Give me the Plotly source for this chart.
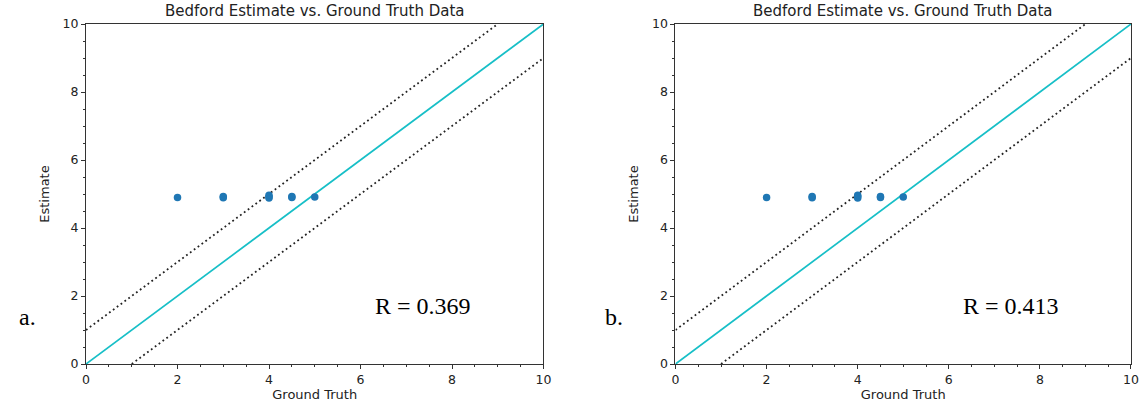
import plotly.graph_objects as go

# Data
ground_truth_a = [2, 3, 3, 4, 4, 4, 4.5, 4.5, 5]
estimate_a = [4.9, 4.89, 4.93, 4.88, 4.92, 4.96, 4.9, 4.93, 4.91]
ground_truth_b = [2, 3, 3, 4, 4, 4, 4.5, 4.5, 5]
estimate_b = [4.9, 4.89, 4.93, 4.88, 4.92, 4.96, 4.9, 4.93, 4.91]
line_x = [0, 10]
identity_y = [0, 10]
upper_x = [0, 9]
upper_y = [1, 10]
lower_x = [1, 10]
lower_y = [0, 9]
r_values = ["R = 0.369", "R = 0.413"]
panel_labels = ["a.", "b."]
title_text = "Bedford Estimate vs. Ground Truth Data"

W, H = 1148, 408
ml, mr, mt, mb = 86, 9, 24, 42
pw = W - ml - mr
ph = H - mt - mb
d1 = [0, (547 - ml) / pw]
d2 = [(680 - ml) / pw, 1]

fig = go.Figure()
for i, (gx, gy) in enumerate([(ground_truth_a, estimate_a), (ground_truth_b, estimate_b)]):
    xa = "x" if i == 0 else "x2"
    ya = "y" if i == 0 else "y2"
    fig.add_trace(go.Scatter(x=upper_x, y=upper_y, mode="lines", xaxis=xa, yaxis=ya,
                             line=dict(color="#222222", width=1.8, dash="1.8px,3px"), showlegend=False))
    fig.add_trace(go.Scatter(x=lower_x, y=lower_y, mode="lines", xaxis=xa, yaxis=ya,
                             line=dict(color="#222222", width=1.8, dash="1.8px,3px"), showlegend=False))
    fig.add_trace(go.Scatter(x=line_x, y=identity_y, mode="lines", xaxis=xa, yaxis=ya,
                             line=dict(color="#17bfc7", width=1.7), showlegend=False))
    fig.add_trace(go.Scatter(x=gx, y=gy, mode="markers", xaxis=xa, yaxis=ya,
                             marker=dict(color="#1f77b4", size=7.5), showlegend=False))

tfont = dict(family="DejaVu Sans", size=13, color="#222222")
axis_common = dict(
    range=[0, 10], dtick=2, tick0=0, ticks="outside", ticklen=4, tickwidth=1,
    tickcolor="#333333", showline=True, linecolor="#333333", linewidth=1, mirror=True,
    showgrid=False, zeroline=False,
    tickfont=dict(family="DejaVu Sans", size=12.5, color="#222222"),
    minor=dict(dtick=0.5, ticks="outside", ticklen=2, tickcolor="#333333"),
)
fig.update_layout(
    width=W, height=H,
    margin=dict(l=ml, r=mr, t=mt, b=mb),
    paper_bgcolor="white", plot_bgcolor="white",
    xaxis=dict(domain=d1, anchor="y", title=dict(text="Ground Truth", standoff=3, font=tfont), **axis_common),
    yaxis=dict(domain=[0, 1], anchor="x", title=dict(text="Estimate", standoff=10, font=tfont), **axis_common),
    xaxis2=dict(domain=d2, anchor="y2", title=dict(text="Ground Truth", standoff=3, font=tfont), **axis_common),
    yaxis2=dict(domain=[0, 1], anchor="x2", title=dict(text="Estimate", standoff=10, font=tfont), **axis_common),
)

annotations = []
for d in [d1, d2]:
    annotations.append(dict(text=title_text, xref="paper", yref="paper",
                            x=(d[0] + d[1]) / 2, y=1, yshift=2, xanchor="center", yanchor="bottom",
                            showarrow=False, font=dict(family="DejaVu Sans", size=15, color="#222222")))
annotations.append(dict(text=r_values[0], xref="x", yref="y", x=7.36, y=1.7, showarrow=False,
                        font=dict(family="Liberation Serif", size=24, color="black")))
annotations.append(dict(text=r_values[1], xref="x2", yref="y2", x=7.36, y=1.7, showarrow=False,
                        font=dict(family="Liberation Serif", size=24, color="black")))
annotations.append(dict(text=panel_labels[0], xref="paper", yref="paper",
                        x=(16 - ml) / pw, y=(366 - 334) / ph,
                        showarrow=False, font=dict(family="Liberation Serif", size=24, color="black")))
annotations.append(dict(text=panel_labels[1], xref="paper", yref="paper",
                        x=(618 - ml) / pw, y=(366 - 334) / ph,
                        showarrow=False, font=dict(family="Liberation Serif", size=24, color="black")))
fig.update_layout(annotations=annotations)

fig.write_html("out.html", config={"displayModeBar": False},
               post_script="document.body.style.margin='0';document.body.style.overflow='hidden';")
